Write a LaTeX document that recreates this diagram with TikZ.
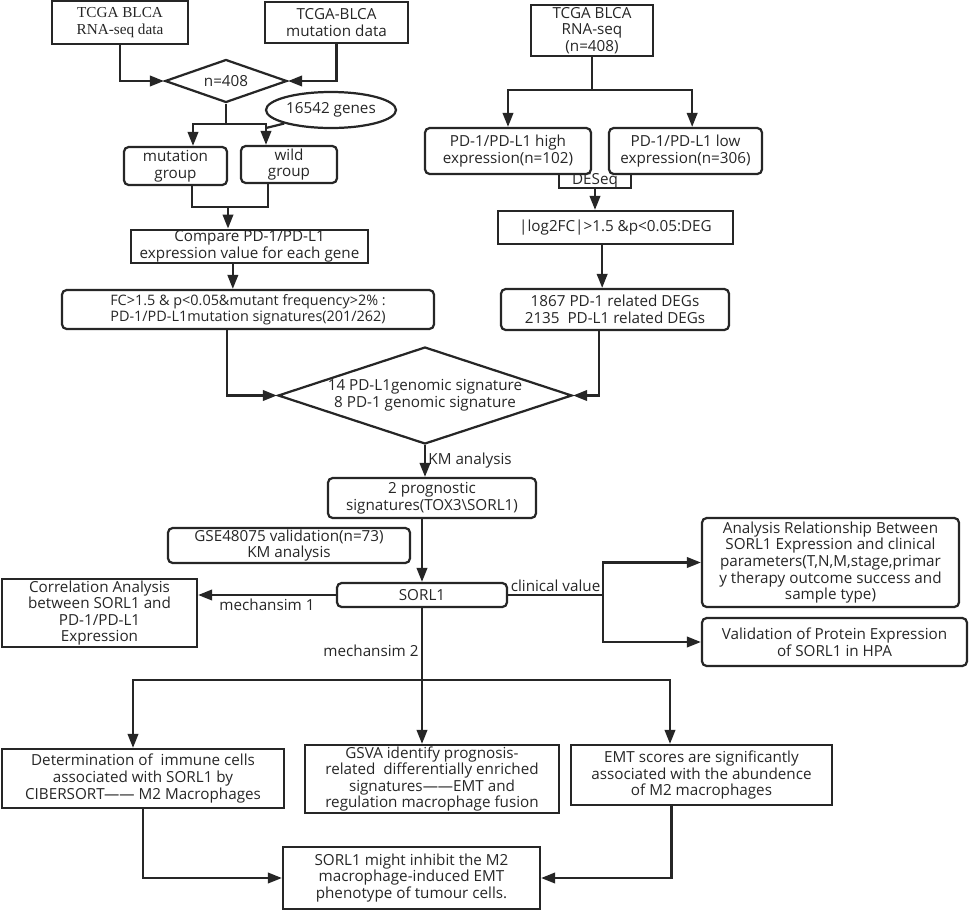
\documentclass[tikz,border=0pt]{standalone}
\usepackage{fontspec}
\setmainfont{Open Sans}
\newfontfamily\timesfont{Liberation Serif}
\usetikzlibrary{positioning,arrows.meta,shapes.geometric}

\begin{document}
\begin{tikzpicture}[
x=0.03cm, y=-0.03cm,
font=\fontsize{13}{14.2}\selectfont,
every node/.style={text=black!85},
wh/.style 2 args={minimum width=#1*0.03cm, minimum height=#2*0.03cm},
box/.style={draw=black!85, line width=1.9pt, align=center, inner sep=1pt},
rbox/.style={box, rounded corners=4pt},
dia/.style={draw=black!85, line width=1.9pt, diamond, inner sep=0pt},
oval/.style={draw=black!85, line width=1.9pt, ellipse, inner sep=0pt},
lbl/.style={inner sep=2pt},
line/.style={draw=black!85, line width=1.9pt},
arr/.style={line, -{Triangle[length=12pt, width=9pt]}}
]
\useasboundingbox (0,0) rectangle (969,911);

% left branch: mutation signatures
\node[box, wh={136}{43}, font=\timesfont\fontsize{13}{14.5}\selectfont] (rna) at (120,22.5) {TCGA BLCA\\RNA-seq data};
\node[box, wh={143}{41}] (mut) at (336.5,22.5) {TCGA-BLCA\\mutation data};
\node[dia, wh={122}{43}, label={center:n=408}] (dia1) at (226,81) {};
\node[oval, wh={130}{36}, label={center:16542 genes}] (genes) at (331,110) {};
\node[rbox, wh={103}{38}] (mg) at (175.5,166) {mutation\\group};
\node[rbox, wh={96}{37}] (wg) at (289,164.5) {wild\\group};
\node[box, wh={237}{33}] (cmp) at (249.5,246.5) {Compare PD-1/PD-L1\\expression value for each gene};
\node[rbox, wh={372}{39}, font=\fontsize{12.3}{14}\selectfont] (fc) at (248,309.5) {FC>1.5 \& p<0.05\&mutant frequency>2\% :\\PD-1/PD-L1mutation signatures(201/262)};

% right branch: DEGs
\node[box, wh={122}{51}] (rna2) at (592,30.5) {TCGA BLCA\\RNA-seq\\(n=408)};
\node[rbox, wh={166}{46}] (hi) at (508,151) {PD-1/PD-L1 high\\expression(n=102)};
\node[rbox, wh={153}{46}] (lo) at (685.5,151) {PD-1/PD-L1 low\\expression(n=306)};
\node[box, wh={235}{33}] (lfc) at (615.5,227.5) {|log2FC|>1.5 \&p<0.05:DEG};
\node[rbox, wh={228}{41}] (degs) at (615,309.5) {1867 PD-1 related DEGs\\2135 \ PD-L1 related DEGs};

% signatures and SORL1
\node[dia, wh={294}{97}, label={[align=center]center:14 PD-L1genomic signature\\8 PD-1 genomic signature}] (dia2) at (425,395.5) {};
\node[rbox, wh={208}{40}] (prog) at (432,498) {2 prognostic\\signatures(TOX3\textbackslash SORL1)};
\node[rbox, wh={242}{35}] (gse) at (289,545.5) {GSE48075 validation(n=73)\\KM analysis};
\node[rbox, wh={170}{24}] (sorl) at (422,595) {SORL1};
\node[box, wh={195}{68}] (corr) at (99.5,613) {Correlation Analysis\\between SORL1 and\\PD-1/PD-L1\\Expression};
\node[rbox, wh={257}{89}] (ana) at (830.5,562.5) {Analysis Relationship Between\\SORL1 Expression and clinical\\parameters(T,N,M,stage,primar\\y therapy outcome success and\\sample type)};
\node[rbox, wh={265}{48}] (val) at (834.5,642) {Validation of Protein Expression\\of SORL1 in HPA};

% mechanism 2
\node[box, wh={282}{59}] (det) at (143,778.5) {Determination of \ immune cells\\associated with SORL1 by\\CIBERSORT—— M2 Macrophages};
\node[box, wh={254}{68}] (gsva) at (432,779) {GSVA identify prognosis-\\related \ differentially enriched\\signatures——EMT and\\regulation macrophage fusion};
\node[box, wh={261}{60}] (emt) at (701.5,775) {EMT scores are significantly\\associated with the abundence\\of M2 macrophages};
\node[box, wh={257}{62}] (fin) at (411.5,878) {SORL1 might inhibit the M2\\macrophage-induced EMT\\phenotype of tumour cells.};

% junctions
\coordinate (j1) at (226,124);
\coordinate (gj) at (266,128);
\coordinate (j3) at (228,207);
\coordinate (j5) at (592,90);
\coordinate (j6) at (595,188);
\coordinate (j7) at (603,595);
\coordinate (j8) at (422,680);

% connectors, left
\draw[arr] (rna.south) |- (dia1.west);
\draw[arr] (mut.south) |- (dia1.east);
\draw[line] (dia1.south) -- (j1);
\draw[arr] (j1) -| ([xshift=0.525cm]mg.north);
\draw[arr] (j1) -| ([xshift=-0.69cm]wg.north);
\draw[line] (genes.south west) -- (gj);
\draw[line] ([xshift=0.495cm]mg.south) |- (j3);
\draw[line] ([xshift=-0.63cm]wg.south) |- (j3);
\draw[arr] (j3) -- (j3 |- cmp.north);
\draw[arr] ([xshift=-0.5cm]cmp.south) -- ([xshift=-0.5cm]cmp.south |- fc.north);
\draw[arr] ([xshift=-0.63cm]fc.south) |- (dia2.west);

% connectors, right
\draw[line] (rna2.south) -- (j5);
\draw[arr] (j5) -| (hi.north);
\draw[arr] (j5) -| ([xshift=0.2cm]lo.north);
\draw[line] ([xshift=1.53cm]hi.south) |- (j6);
\draw[line] ([xshift=-1.635cm]lo.south) |- (j6);
\node[lbl, above=-2pt of j6] (deseq) {DESeq};
\draw[arr] (j6) -- (j6 |- lfc.north);
\draw[arr] ([xshift=-0.4cm]lfc.south) -- ([xshift=-0.4cm]lfc.south |- degs.north);
\draw[arr] ([xshift=-0.48cm]degs.south) |- (dia2.east);

% SORL1 and beyond
\draw[arr] (dia2.south) -- (dia2.south |- prog.north) node[midway, right, lbl] {KM analysis};
\draw[arr] (prog.south -| sorl.north) -- (sorl.north);
\draw[arr] (sorl.west) -- (sorl.west -| corr.east) node[midway, below, lbl] {mechansim 1};
\draw[line] (sorl.east) -- (j7) node[midway, above, lbl] {clinical value};
\draw[arr] (j7) |- (ana.west);
\draw[arr] (j7) |- (val.west);
\draw[line] (sorl.south) -- (j8) node[pos=0.6, left, lbl] {mechansim 2};
\draw[arr] (j8) -| ([xshift=-0.3cm]det.north);
\draw[arr] (j8) -- (j8 |- gsva.north);
\draw[arr] (j8) -| ([xshift=-0.945cm]emt.north);
\draw[arr] (det.south) |- (fin.west);
\draw[arr] ([xshift=-0.9cm]emt.south) |- (fin.east);
\end{tikzpicture}
\end{document}
